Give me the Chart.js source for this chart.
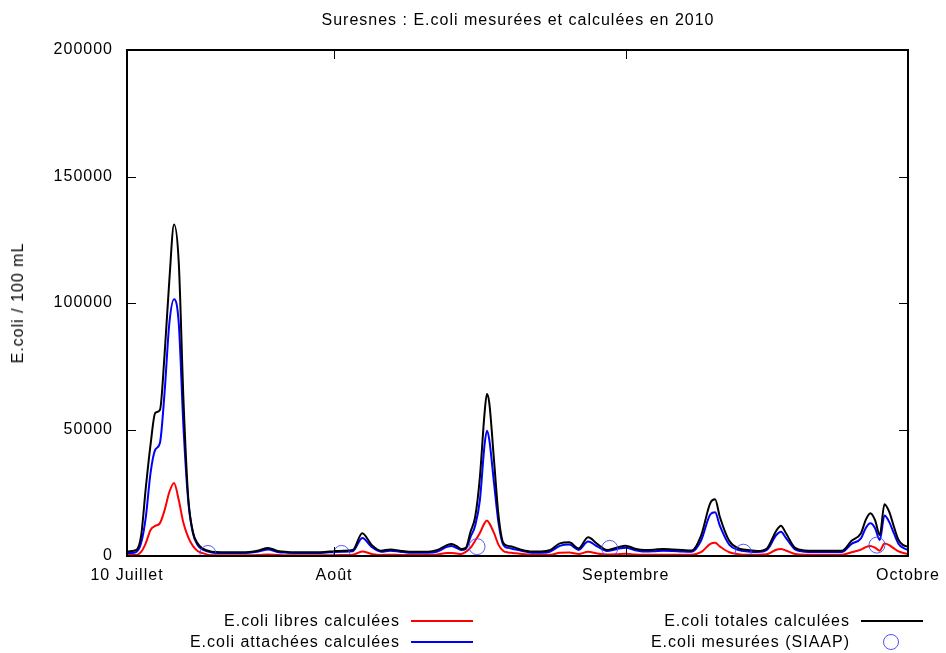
<!DOCTYPE html>
<html>
<head>
<meta charset="utf-8">
<script src="https://cdn.jsdelivr.net/npm/chart.js@4.4.1/dist/chart.umd.min.js"></script>
<style>
  body { margin: 0; background: #fff; }
  #wrap { position: relative; width: 946px; height: 653px; font-family: "Liberation Sans", Arial, sans-serif; font-size: 16px; letter-spacing: 1px; color: #000; }
  #wrap canvas { position: absolute; left: 0; top: 0; }
  .txt { position: absolute; white-space: nowrap; line-height: 18px; }
  .leg { position: absolute; height: 0; }
</style>
</head>
<body>
<div id="wrap">
  <canvas id="chart" width="946" height="653"></canvas>
  <div class="txt" id="titre" style="left:0; width:1036px; top:11px; text-align:center;">Suresnes : E.coli mesurées et calculées en 2010</div>
  <div class="txt" id="ytitre" style="left:18px; top:303px; transform: translate(-50%, -50%) rotate(-90deg);">E.coli / 100 mL</div>
</div>
<script>
// jours depuis le 10 juillet 2010
const jours = [0, 0.5, 1, 1.5, 2, 2.5, 3, 3.5, 4, 4.5, 5, 5.5, 6, 6.5, 7, 7.5, 8,
	9, 10, 11, 12, 13, 14, 15, 16, 17, 18, 19, 20, 21, 22, 23, 24, 25, 26, 27, 28, 29, 30, 31, 32, 33,
	34, 34.5, 35, 35.5, 36, 36.5, 37, 37.5, 38, 38.25, 38.5, 39, 39.5, 40, 40.5, 41, 42,
	43, 44, 45, 46, 47, 48, 49, 50, 51, 52, 53, 54, 55, 56, 57, 58, 59, 60, 61, 62,
	62.5, 63, 64, 65, 66, 67, 68, 69, 69.5, 70, 71, 72, 73, 74, 75, 76, 77, 78,
	78.5, 79, 79.5, 80, 80.5, 81, 81.5, 82, 82.5, 83];

const libres = [400, 400, 400, 1600, 5100, 10300, 11900, 13000, 18200, 25300, 28900, 22100, 13000, 7500, 4000, 2000, 1200,
	300, 300, 300, 300, 300, 400, 600, 400, 300, 300, 300, 300, 300, 300, 400, 500, 1800, 800, 400, 500, 400, 400, 400, 400, 600,
	1200, 1200, 1000, 800, 1600, 3200, 6000, 9100, 13000, 14000, 13000, 9100, 4300, 2000, 1400, 1200, 800,
	500, 500, 500, 1300, 1400, 800, 1700, 1000, 600, 700, 900, 600, 500, 500, 500, 500, 500, 500, 1500, 4800,
	5200, 3800, 1500, 700, 500, 500, 700, 2500, 2800, 2200, 800, 500, 500, 500, 500, 500, 1500, 2500,
	3500, 4000, 3300, 2100, 4900, 4300, 3000, 1800, 1200, 800];

const attachees = [1200, 1200, 1600, 5100, 15400, 32800, 42000, 44700, 65000, 92000, 101500, 92000, 51000, 22100, 9100, 4300, 2600,
	1400, 1200, 1200, 1200, 1300, 1800, 2600, 1600, 1300, 1200, 1200, 1200, 1300, 1600, 1700, 1900, 7100, 3600, 1700, 2100, 1700, 1300, 1300, 1300, 1800,
	3600, 4000, 3200, 2400, 2800, 7500, 12000, 22000, 44000, 49500, 46000, 29000, 12600, 4300, 3200, 2800, 2000,
	1300, 1300, 1800, 4000, 4500, 2400, 5700, 3700, 2000, 2700, 3300, 2300, 1800, 1900, 2100, 2000, 1800, 1700, 6000, 16500,
	17300, 12000, 4500, 2300, 1800, 1600, 2400, 8300, 9600, 7300, 2600, 1700, 1600, 1600, 1600, 1600, 4800, 7000,
	11000, 12900, 11000, 6300, 16000, 13500, 9000, 4800, 3200, 2400];

const totales = [1600, 2000, 2400, 8000, 27000, 43900, 56500, 57700, 80000, 109000, 131000, 116000, 61700, 23400, 9600, 5000, 3000,
	1700, 1500, 1500, 1500, 1600, 2200, 3200, 2000, 1600, 1500, 1500, 1500, 1600, 1900, 2100, 2400, 9000, 4400, 2100, 2600, 2100, 1700, 1700, 1700, 2400,
	4300, 4700, 4000, 2800, 3200, 9500, 15400, 31000, 56500, 64000, 60500, 38000, 15500, 5100, 4000, 3600, 2400,
	1800, 1800, 2400, 5000, 5400, 3000, 7400, 4700, 2400, 3300, 4100, 2900, 2400, 2500, 2800, 2600, 2400, 2200, 8000, 21000,
	22400, 15500, 6000, 3000, 2400, 2000, 3000, 10000, 12000, 9200, 3200, 2200, 2100, 2100, 2100, 2100, 6000, 9000,
	14200, 16900, 14200, 8300, 20500, 17500, 11600, 6300, 4300, 3700];

// mesures SIAAP
const joursMesures = [8.6, 22.8, 37.2, 51.3, 65.5, 79.7];
const mesures = [1000, 1000, 3700, 3000, 1500, 4300];

// graduations
const joursGraduations = [0, 22, 53, 83];
const etiquettesMois = ["10 Juillet", "Août", "Septembre", "Octobre"];
const yGraduations = [0, 50000, 100000, 150000, 200000];

const legende = [
	{ texte: "E.coli libres calculées", couleur: "#ff0000", type: "ligne", x: 400, y: 621 },
	{ texte: "E.coli attachées calculées", couleur: "#0000ff", type: "ligne", x: 400, y: 642 },
	{ texte: "E.coli totales calculées", couleur: "#000000", type: "ligne", x: 850, y: 621 },
	{ texte: "E.coli mesurées (SIAAP)", couleur: "#5050ff", type: "cercle", x: 850, y: 642 }
];

const serie = vals => jours.map((j, i) => ({ x: j, y: vals[i] }));

// cadre + petites graduations vers l'intérieur, comme gnuplot
const cadrePlugin = {
	id: "cadre",
	beforeDraw(chart) {
		chart.ctx.letterSpacing = "1px";
	},
	afterDatasetsDraw(chart) {
		const { ctx, chartArea: a, scales } = chart;
		ctx.save();
		ctx.strokeStyle = "#000";
		ctx.lineWidth = 1;
		ctx.beginPath();
		yGraduations.forEach(v => {
			const y = Math.round(scales.y.getPixelForValue(v)) + 0.5;
			ctx.moveTo(a.left, y); ctx.lineTo(a.left + 9, y);
			ctx.moveTo(a.right, y); ctx.lineTo(a.right - 9, y);
		});
		joursGraduations.forEach(v => {
			const x = Math.round(scales.x.getPixelForValue(v)) + 0.5;
			ctx.moveTo(x, a.bottom); ctx.lineTo(x, a.bottom - 9);
			ctx.moveTo(x, a.top); ctx.lineTo(x, a.top + 9);
		});
		ctx.stroke();
		ctx.lineWidth = 2;
		ctx.strokeRect(a.left, a.top, a.right - a.left, a.bottom - a.top);
		ctx.restore();
	}
};

new Chart(document.getElementById("chart"), {
	type: "line",
	data: {
		datasets: [
			{ label: "E.coli mesurées (SIAAP)", data: joursMesures.map((j, i) => ({ x: j, y: mesures[i] })),
				showLine: false, pointRadius: 8, pointBorderWidth: 1, pointBorderColor: "rgba(70,70,255,0.9)",
				pointBackgroundColor: "rgba(0,0,0,0)", order: 0 },
			{ label: "E.coli totales calculées", data: serie(totales), borderColor: "#000000", borderWidth: 2, pointRadius: 0, order: 1 },
			{ label: "E.coli attachées calculées", data: serie(attachees), borderColor: "#0000ff", borderWidth: 2, pointRadius: 0, order: 2 },
			{ label: "E.coli libres calculées", data: serie(libres), borderColor: "#ff0000", borderWidth: 2, pointRadius: 0, order: 3 }
		]
	},
	options: {
		responsive: false,
		animation: false,
		cubicInterpolationMode: "monotone",
		layout: { padding: { top: 50, right: 38, left: 0, bottom: 0 } },
		plugins: {
			legend: { display: false },
			tooltip: { enabled: false }
		},
		scales: {
			x: {
				type: "linear",
				min: 0,
				max: 83,
				afterBuildTicks: scale => { scale.ticks = joursGraduations.map(v => ({ value: v })); },
				afterFit: scale => {
					scale.height = 97;
					scale.paddingLeft = 0;
					scale.paddingRight = 0;
				},
				grid: { display: false, drawTicks: false },
				border: { display: false },
				ticks: {
					autoSkip: false,
					maxRotation: 0,
					padding: 10,
					color: "#000",
					font: { family: "Liberation Sans", size: 16 },
					callback: v => etiquettesMois[joursGraduations.indexOf(v)]
				}
			},
			y: {
				min: 0,
				max: 200000,
				afterBuildTicks: scale => { scale.ticks = yGraduations.map(v => ({ value: v })); },
				afterFit: scale => {
					scale.width = 127;
					scale.paddingTop = 0;
					scale.paddingBottom = 0;
				},
				grid: { display: false, drawTicks: false },
				border: { display: false },
				ticks: {
					padding: 14,
					color: "#000",
					font: { family: "Liberation Sans", size: 16 },
					callback: v => String(v)
				}
			}
		}
	},
	plugins: [cadrePlugin]
});

// légende en bas, texte à droite aligné puis échantillon
const wrap = document.getElementById("wrap");
legende.forEach(item => {
	const t = document.createElement("div");
	t.className = "txt";
	t.textContent = item.texte;
	t.style.right = (946 - item.x) + "px";
	t.style.top = (item.y - 9) + "px";
	wrap.appendChild(t);

	const s = document.createElement("div");
	s.className = "leg";
	if (item.type === "ligne") {
		s.style.left = (item.x + 11) + "px";
		s.style.top = (item.y - 1) + "px";
		s.style.width = "62px";
		s.style.borderTop = `2px solid ${item.couleur}`;
	} else {
		s.style.left = (item.x + 33) + "px";
		s.style.top = (item.y - 8) + "px";
		s.style.width = "14px";
		s.style.height = "14px";
		s.style.border = `1px solid ${item.couleur}`;
		s.style.borderRadius = "50%";
	}
	wrap.appendChild(s);
});
</script>
</body>
</html>
